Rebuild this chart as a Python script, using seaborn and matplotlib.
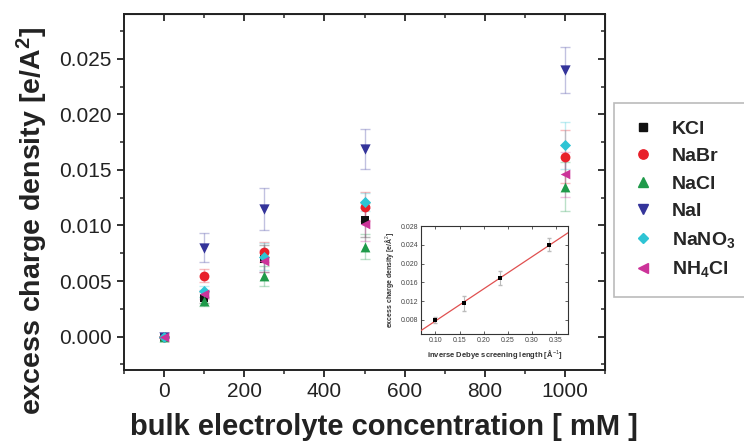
import numpy as np
import pandas as pd
import matplotlib
matplotlib.use("Agg")
import matplotlib.pyplot as plt
import seaborn as sns
from matplotlib.ticker import MultipleLocator
from matplotlib.lines import Line2D

# ---- data ----
conc = [0, 100, 250, 500, 1000]
salts = ["KCl", "NaBr", "NaCl", "NaI", "NaNO3", "NH4Cl"]
KCl = [0.0, 0.0035, 0.0070, 0.0105, np.nan]   # not visible at 1000 mM
NaBr = [0.0, 0.0055, 0.0076, 0.0117, 0.0162]
NaCl = [0.0, 0.0032, 0.0055, 0.0081, 0.0135]
NaI = [0.0, 0.0080, 0.0115, 0.0169, 0.0240]
NaNO3 = [0.0, 0.0041, 0.0072, 0.0121, 0.0172]
NH4Cl = [0.0, 0.0038, 0.0068, 0.0101, 0.0146]
KCl_err = [0.0, 0.0005, 0.0012, 0.0015, np.nan]
NaBr_err = [0.0, 0.0006, 0.0009, 0.0013, 0.0024]
NaCl_err = [0.0, 0.0004, 0.0009, 0.0011, 0.0022]
NaI_err = [0.0, 0.0013, 0.0019, 0.0018, 0.0021]
NaNO3_err = [0.0, 0.0005, 0.0012, 0.0008, 0.0021]
NH4Cl_err = [0.0, 0.0004, 0.0010, 0.0015, 0.0020]
legend_labels = ["KCl", "NaBr", "NaCl", "NaI", "NaNO$_\\mathbf{3}$", "NH$_\\mathbf{4}$Cl"]

# inset data
inv_debye = [0.100, 0.159, 0.234, 0.336]
inset_density = [0.0080, 0.01157, 0.01686, 0.0240]
inset_err = [0.0006, 0.0016, 0.0015, 0.0014]

values = [KCl, NaBr, NaCl, NaI, NaNO3, NH4Cl]
errors = [KCl_err, NaBr_err, NaCl_err, NaI_err, NaNO3_err, NH4Cl_err]

colors = {"KCl": "#111111", "NaBr": "#e8202a", "NaCl": "#1f9a4a",
          "NaI": "#34349a", "NaNO3": "#2ec4d4", "NH4Cl": "#cc3399"}
markers = {"KCl": "s", "NaBr": "o", "NaCl": "^", "NaI": "v",
           "NaNO3": "D", "NH4Cl": "<"}
msize = {"KCl": 36, "NaBr": 50, "NaCl": 50, "NaI": 55, "NaNO3": 32, "NH4Cl": 48}

rows = []
for s, v, e in zip(salts, values, errors):
    for c, vv, ee in zip(conc, v, e):
        rows.append({"salt": s, "conc": c, "value": vv, "err": ee})
df = pd.DataFrame(rows).dropna()

sns.set_style("ticks")
plt.rcParams["font.family"] = ["Liberation Sans", "DejaVu Sans"]
plt.rcParams["mathtext.fontset"] = "custom"
plt.rcParams["mathtext.bf"] = "Liberation Sans:bold"
plt.rcParams["mathtext.rm"] = "Liberation Sans"
plt.rcParams["mathtext.it"] = "Liberation Sans:italic"

fig = plt.figure(figsize=(7.44, 4.47), dpi=100)
ax = fig.add_axes([0.1667, 0.1723, 0.8132 - 0.1667, 0.968 - 0.1723])

# error bars (light)
for s in salts:
    d = df[df.salt == s]
    ax.errorbar(d["conc"], d["value"], yerr=d["err"], fmt="none",
                ecolor=colors[s], alpha=0.3, elinewidth=1.0, capsize=3.5,
                capthick=1.0, zorder=2)

for s in salts:
    d = df[df.salt == s]
    sns.scatterplot(data=d, x="conc", y="value", marker=markers[s],
                    color=colors[s], s=msize[s], linewidth=0, ax=ax,
                    zorder=3, legend=False)

ax.set_xlim(-100, 1100)
ax.set_ylim(-0.003, 0.029)
ax.xaxis.set_major_locator(MultipleLocator(200))
ax.xaxis.set_minor_locator(MultipleLocator(100))
ax.yaxis.set_major_locator(MultipleLocator(0.005))
ax.yaxis.set_minor_locator(MultipleLocator(0.0025))
ax.yaxis.set_major_formatter(matplotlib.ticker.FormatStrFormatter("%.3f"))
ax.tick_params(which="major", direction="out", length=5, width=1.3,
               labelsize=15, colors="#222222", pad=4)
ax.tick_params(which="minor", direction="out", length=3, width=1.1)
for sp in ax.spines.values():
    sp.set_linewidth(1.4)
    sp.set_color("#222222")

secx = ax.secondary_xaxis("top")
secx.xaxis.set_major_locator(MultipleLocator(200))
secx.xaxis.set_minor_locator(MultipleLocator(100))
secx.tick_params(which="major", direction="in", length=5, width=1.3, labeltop=False)
secx.tick_params(which="minor", direction="in", length=3, width=1.1)
secy = ax.secondary_yaxis("right")
secy.yaxis.set_major_locator(MultipleLocator(0.005))
secy.yaxis.set_minor_locator(MultipleLocator(0.0025))
secy.tick_params(which="major", direction="in", length=5, width=1.3, labelright=False)
secy.tick_params(which="minor", direction="in", length=3, width=1.1)

ax.set_xlabel("bulk electrolyte concentration [ mM ]", fontsize=21,
              fontweight="bold", labelpad=8, color="#222222")
ax.set_ylabel("excess charge density [e/A$^\\mathbf{2}$]", fontsize=20.5,
              fontweight="bold", labelpad=6, color="#222222")
ax.xaxis.label.set_x(0.54)
ax.yaxis.label.set_y(0.42)

# legend
handles = [Line2D([], [], linestyle="none", marker=markers[s], color=colors[s],
                  markersize=np.sqrt(msize[s]) * 0.95) for s in salts]
leg = fig.legend(handles, legend_labels, loc="upper left",
                 bbox_to_anchor=(0.825, 0.77), frameon=True, fancybox=False,
                 prop={"weight": "bold", "size": 14}, labelspacing=0.5,
                 handletextpad=0.9, borderpad=0.9, handlelength=1.2,
                 borderaxespad=0)
leg.get_frame().set_edgecolor("#aaaaaa")
leg.get_frame().set_linewidth(1.2)

# inset
ins = fig.add_axes([0.5659, 0.2528, 0.1976, 0.2416])
ins.errorbar(inv_debye, inset_density, yerr=inset_err, fmt="none",
             ecolor="#bbbbbb", elinewidth=0.8, capsize=1.5, zorder=2)
sns.scatterplot(x=inv_debye, y=inset_density, marker="s", color="black",
                s=8, linewidth=0, ax=ins, zorder=4)
ins.set_xlim(0.07, 0.375)
ins.set_ylim(0.005, 0.028)
slope, icpt = np.polyfit(inv_debye, inset_density, 1)
xl = np.array(ins.get_xlim())
ins.plot(xl, slope * xl + icpt, color="#e05050", lw=0.9, zorder=3)
ins.set_xlim(0.07, 0.375)
ins.xaxis.set_major_locator(MultipleLocator(0.05))
ins.yaxis.set_major_locator(MultipleLocator(0.004))
ins.xaxis.set_major_formatter(matplotlib.ticker.FormatStrFormatter("%.2f"))
ins.yaxis.set_major_formatter(matplotlib.ticker.FormatStrFormatter("%.3f"))
ins.tick_params(direction="in", length=2, width=0.6, labelsize=5,
                top=True, right=True, pad=2, colors="#444444")
for sp in ins.spines.values():
    sp.set_linewidth(0.8)
    sp.set_color("#333333")
ins.set_xlabel("inverse Debye screening length [Å$^{-1}$]", fontsize=5.5,
               fontweight="bold", labelpad=3, color="#333333")
ins.set_ylabel("excess charge density [e/Å$^2$]", fontsize=5,
               fontweight="bold", labelpad=3, color="#333333")

fig.savefig("out.png", dpi=100)
